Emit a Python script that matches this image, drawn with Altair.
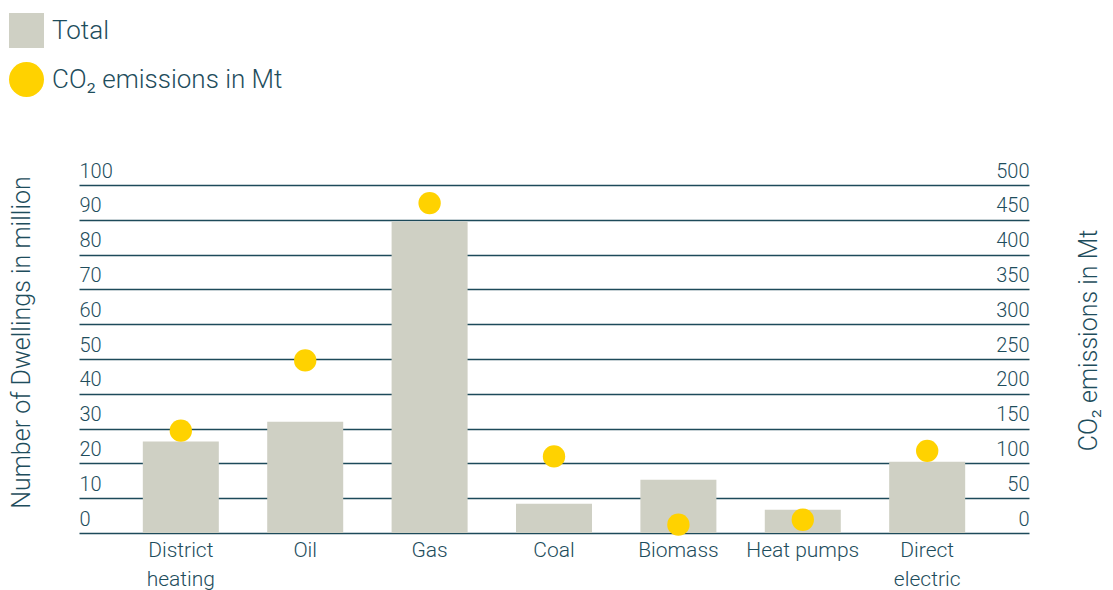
import altair as alt
import pandas as pd

categories = ["District heating", "Oil", "Gas", "Coal", "Biomass", "Heat pumps", "Direct electric"]
dwellings = [26.3, 32.0, 89.5, 8.4, 15.3, 6.7, 20.5]
co2 = [147, 248, 474, 110, 12, 19, 118]
left_ticks = list(range(0, 101, 10))
right_ticks = list(range(0, 501, 50))
series_names = ["Total", "CO₂ emissions in Mt"]
series_colors = ["#cfd0c4", "#ffd200"]
series_shapes = ["square", "circle"]

TEXT = "#1e4d5c"
GRID = "#1d4a5a"
FONT = "Roboto"

df = pd.DataFrame({"category": categories, "dwellings": dwellings, "co2": co2,
                   "series": [series_names[1]] * len(categories)})

x = alt.X("category:N", sort=categories, title=None,
          scale=alt.Scale(paddingInner=0.389, paddingOuter=0.513),
          axis=alt.Axis(labelAngle=0, domain=False, ticks=False, labelPadding=6,
                        labelFontSize=21, labelLineHeight=29, labelBaseline="top",
                        labelExpr="datum.value == 'District heating' ? ['District', 'heating'] : datum.value == 'Direct electric' ? ['Direct', 'electric'] : datum.value"))

bars = alt.Chart(df).mark_bar(color=series_colors[0]).encode(
    x=x,
    y=alt.Y("dwellings:Q", scale=alt.Scale(domain=[0, 100], nice=False),
            axis=alt.Axis(values=left_ticks, grid=True, gridColor=GRID, gridWidth=1.5,
                          domain=False, ticks=False, tickSize=0, labelAlign="left",
                          labelBaseline="alphabetic", labelPadding=0, labelOffset=-8,
                          labelFlush=False, labelOverlap=False, labelFontSize=20,
                          title="Number of Dwellings in million", titleAngle=270,
                          titleX=-58, titleY=157, titleAlign="center", titleBaseline="middle",
                          titleFontSize=25)),
)

legend_kw = dict(title=None, orient="none", legendX=-70, legendY=-172,
                 symbolSize=1225, labelFontSize=26, labelOffset=8, labelLimit=0,
                 rowPadding=14, padding=0, symbolStrokeWidth=0, symbolOpacity=1)

points = alt.Chart(df).mark_point(filled=True, size=500, opacity=1).encode(
    x=x,
    y=alt.Y("co2:Q", scale=alt.Scale(domain=[0, 500], nice=False),
            axis=alt.Axis(orient="right", values=right_ticks, grid=False,
                          domain=False, ticks=False, tickSize=0, labelAlign="right",
                          labelBaseline="alphabetic", labelPadding=0, labelOffset=-8,
                          labelFlush=False, labelOverlap=False, labelFontSize=20,
                          title="CO₂ emissions in Mt", titleAngle=270,
                          titleX=59, titleY=155, titleAlign="center", titleBaseline="middle",
                          titleFontSize=25)),
    color=alt.Color("series:N", scale=alt.Scale(domain=series_names, range=series_colors),
                    legend=alt.Legend(**legend_kw)),
    shape=alt.Shape("series:N", scale=alt.Scale(domain=series_names, range=series_shapes),
                    legend=alt.Legend(**legend_kw)),
)

chart = alt.layer(bars, points).resolve_scale(y="independent").properties(
    width=950, height=348,
    padding={"left": 79, "top": 185, "right": 84, "bottom": 57},
    autosize=alt.AutoSizeParams(type="none"),
).configure(font=FONT).configure_axis(
    labelColor=TEXT, titleColor=TEXT, labelFont=FONT, titleFont=FONT,
    titleFontWeight=300, labelFontWeight=300,
).configure_legend(labelColor=TEXT, labelFont=FONT, labelFontWeight=300
).configure_view(stroke=None)

chart.save("out.html", embed_options={"renderer": "svg", "actions": False})
